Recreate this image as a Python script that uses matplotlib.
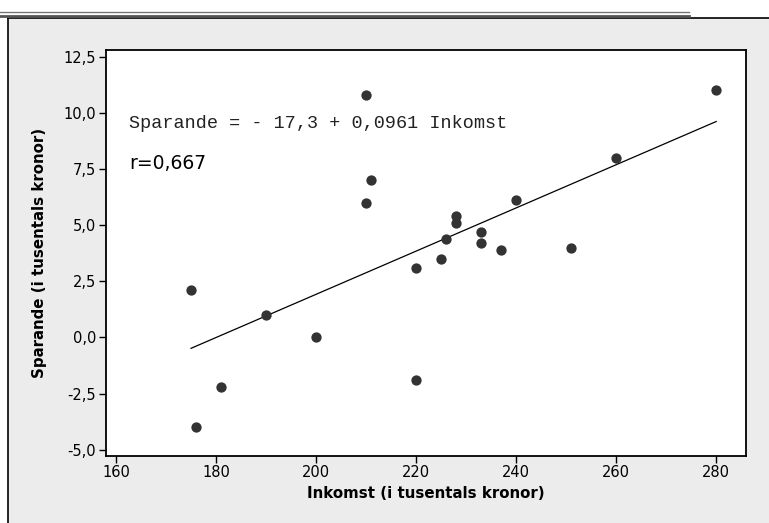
import matplotlib
matplotlib.use("Agg")
import matplotlib.pyplot as plt
import numpy as np
from matplotlib.patches import Rectangle
from matplotlib.lines import Line2D
from matplotlib.ticker import FuncFormatter

# data
inkomst = [175, 176, 181, 190, 200, 210, 210, 211, 220, 220, 225,
           226, 228, 228, 233, 233, 237, 240, 251, 260, 280]
sparande = [2.1, -4.0, -2.2, 1.0, 0.0, 10.8, 6.0, 7.0, 3.1, -1.9, 3.5,
            4.4, 5.4, 5.1, 4.7, 4.2, 3.9, 6.1, 4.0, 8.0, 11.0]
intercept = -17.3
slope = 0.0961
r_value = "0,667"
x_ticks = [160, 180, 200, 220, 240, 260, 280]
y_ticks = [-5.0, -2.5, 0.0, 2.5, 5.0, 7.5, 10.0, 12.5]

W, H = 769, 523
fig = plt.figure(figsize=(W / 100, H / 100), dpi=100, facecolor="white")

# grey panel with black border on top/left, plus the double line above it
fig.patches.append(Rectangle((8 / W, 0), 1, 1 - 18 / H, transform=fig.transFigure,
                             facecolor="#ececec", edgecolor="none", zorder=-10))
fig.lines.append(Line2D([8 / W, 1], [1 - 17.5 / H] * 2, transform=fig.transFigure,
                        color="black", lw=1.2, zorder=-5))
fig.lines.append(Line2D([7.5 / W] * 2, [0, 1 - 17.5 / H], transform=fig.transFigure,
                        color="black", lw=1.2, zorder=-5))
fig.lines.append(Line2D([0, 689 / W], [1 - 15.5 / H] * 2, transform=fig.transFigure,
                        color="#555555", lw=2, zorder=-5))
fig.lines.append(Line2D([0, 689 / W], [1 - 12 / H] * 2, transform=fig.transFigure,
                        color="#777777", lw=1, zorder=-5))

ax = fig.add_axes([106 / W, 1 - 455.7 / H, (745.7 - 106) / W, (455.7 - 50) / H])
ax.set_facecolor("white")

ax.scatter(inkomst, sparande, s=55, color="#333333", zorder=3, linewidths=0)

xs = np.array([min(inkomst), max(inkomst)])
ax.plot(xs, intercept + slope * xs, color="black", lw=0.9, zorder=2)

ax.text(162.6, 9.5, "Sparande = - 17,3 + 0,0961 Inkomst", family="Liberation Mono",
        fontsize=13.3, va="center", ha="left", color="#222222")
ax.text(162.6, 7.75, "r=" + r_value, family="DejaVu Sans", fontsize=13.5,
        va="center", ha="left", color="black")

ax.set_xlim(158, 285.9)
ax.set_ylim(-5.26, 12.79)
ax.set_xticks(x_ticks)
ax.set_yticks(y_ticks)
ax.yaxis.set_major_formatter(FuncFormatter(lambda v, p: f"{v:.1f}".replace(".", ",")))
ax.tick_params(direction="out", length=5, width=1, labelsize=10.5, pad=2)
for s in ax.spines.values():
    s.set_linewidth(1.3)

ax.set_xlabel("Inkomst (i tusentals kronor)", fontsize=10.8, fontweight="bold", labelpad=4)
ax.set_ylabel("Sparande (i tusentals kronor)", fontsize=10.8, fontweight="bold", labelpad=12)

fig.savefig("out.png", dpi=100, facecolor=fig.get_facecolor())
